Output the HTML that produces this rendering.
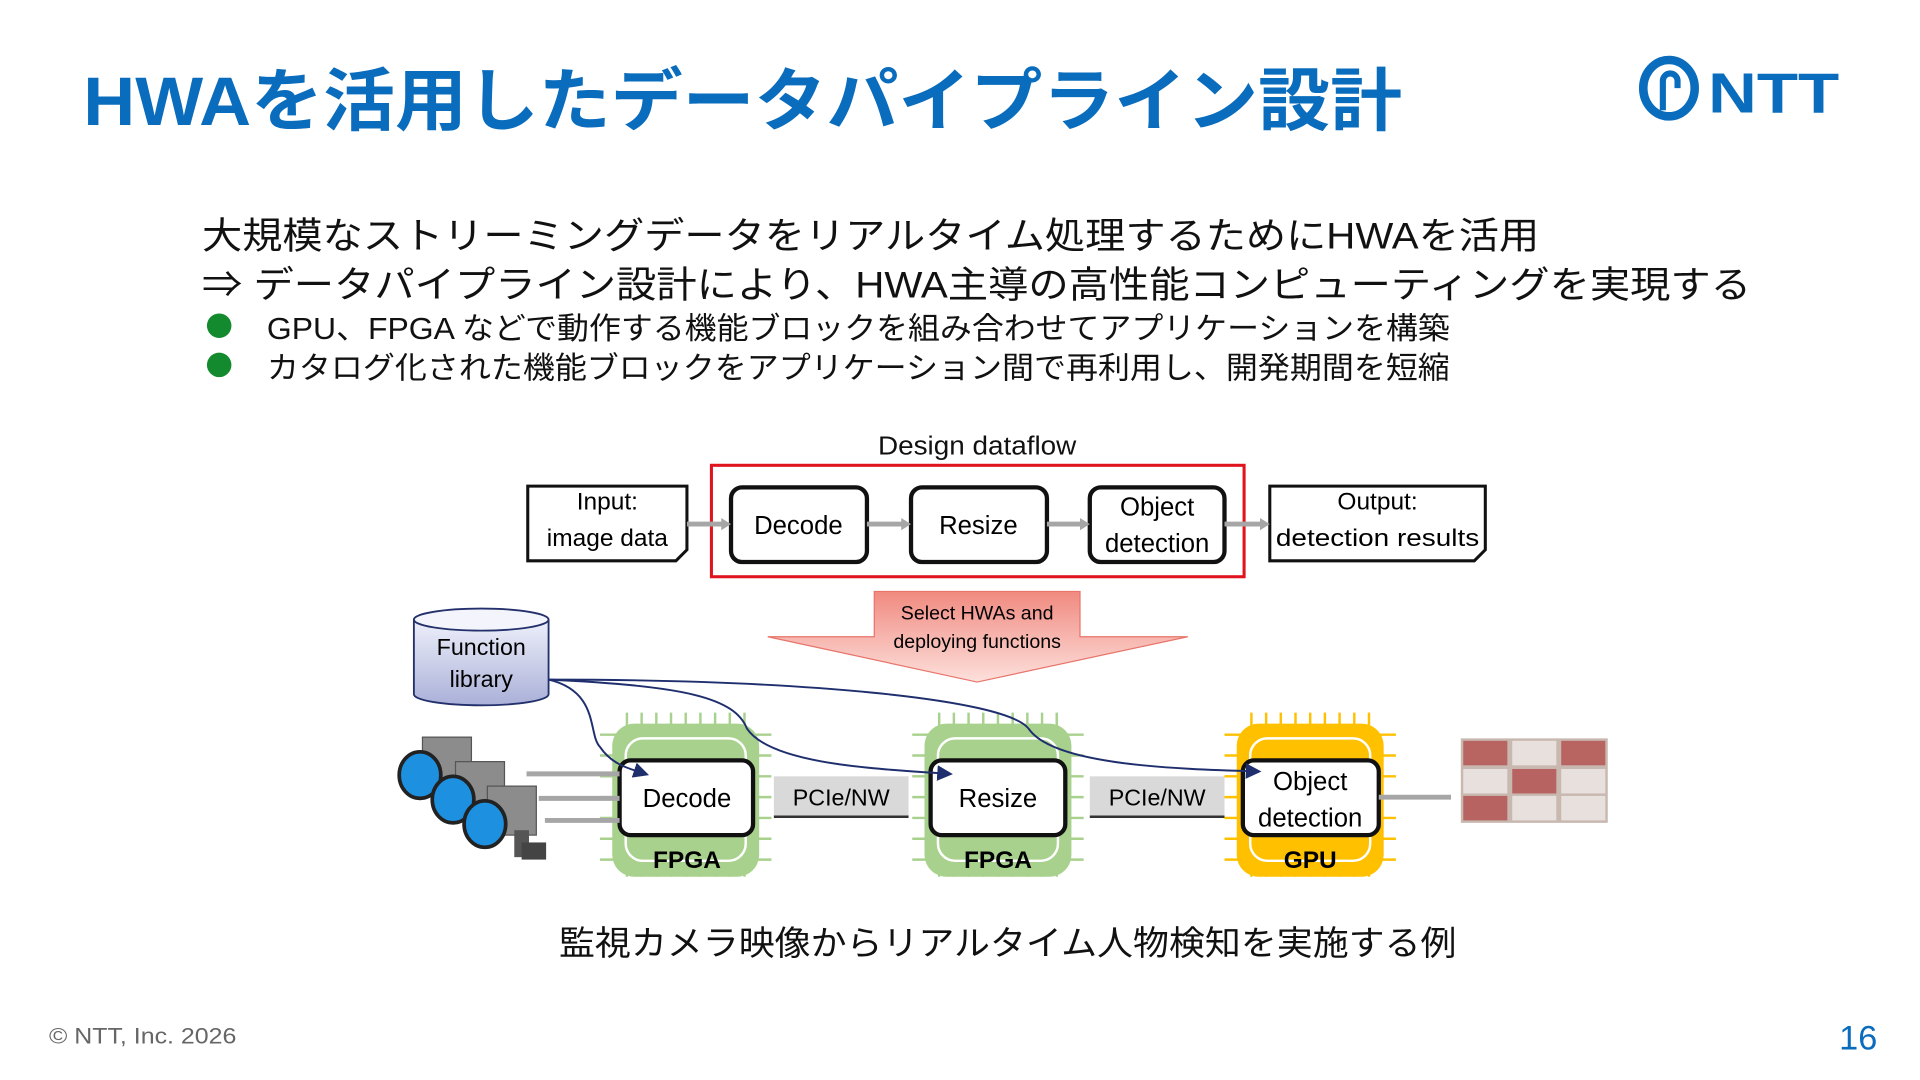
<!DOCTYPE html>
<html><head><meta charset="utf-8"><style>
html,body{margin:0;padding:0;background:#fff;}
svg{display:block;}
text{font-family:"Liberation Sans","Noto Sans CJK JP",sans-serif;}
</style></head><body>
<svg width="1920" height="1080" viewBox="0 0 1568 882" xmlns="http://www.w3.org/2000/svg">
<defs>
<linearGradient id="rg" x1="0" y1="0" x2="0" y2="1"><stop offset="0" stop-color="#f08a80"/><stop offset="1" stop-color="#fde0dc"/></linearGradient>
<linearGradient id="cyl" x1="0" y1="0" x2="0" y2="1"><stop offset="0" stop-color="#eef0fa"/><stop offset="1" stop-color="#aab0d8"/></linearGradient>
<marker id="ah" markerWidth="8" markerHeight="8" refX="6" refY="4" orient="auto"><path d="M0,0 L8,4 L0,8 z" fill="#1f2f6e"/></marker>
</defs>
<text x="68" y="102" font-size="56" font-weight="bold" fill="#0a6cbc" textLength="1077" lengthAdjust="spacingAndGlyphs">HWAを活用したデータパイプライン設計</text>
<!-- NTT logo -->
<ellipse cx="1363" cy="72" rx="21" ry="23" fill="none" stroke="#0a6cbc" stroke-width="7"/>
<path d="M1358,90 L1358,66 a6,6 0 0 1 12,0 L1370,72" fill="none" stroke="#0a6cbc" stroke-width="5"/>
<text x="1395" y="92" font-size="46" font-weight="bold" fill="#0a6cbc" textLength="107" lengthAdjust="spacingAndGlyphs">NTT</text>

<text x="165" y="203" font-size="30" fill="#111" textLength="1092" lengthAdjust="spacingAndGlyphs">大規模なストリーミングデータをリアルタイム処理するためにHWAを活用</text>
<text x="165" y="243" font-size="30" fill="#111" textLength="1265" lengthAdjust="spacingAndGlyphs">⇒ データパイプライン設計により、HWA主導の高性能コンピューティングを実現する</text>
<circle cx="179" cy="266" r="10" fill="#138a2d"/>
<circle cx="179" cy="298" r="10" fill="#138a2d"/>
<text x="218" y="277" font-size="25" fill="#111" textLength="966" lengthAdjust="spacingAndGlyphs">GPU、FPGA などで動作する機能ブロックを組み合わせてアプリケーションを構築</text>
<text x="218" y="309" font-size="25" fill="#111" textLength="966" lengthAdjust="spacingAndGlyphs">カタログ化された機能ブロックをアプリケーション間で再利用し、開発期間を短縮</text>

<text x="798" y="371" font-size="21" fill="#111" text-anchor="middle" textLength="162" lengthAdjust="spacingAndGlyphs">Design dataflow</text>
<rect x="581" y="380" width="435" height="91" fill="none" stroke="#e0141e" stroke-width="2.5"/>
<path d="M431,397 H561 V449 L552,458 H431 Z" fill="#fff" stroke="#111" stroke-width="2.5"/>
<text x="496" y="416" font-size="20" text-anchor="middle">Input:</text>
<text x="496" y="446" font-size="20" text-anchor="middle">image data</text>
<path d="M1037,397 H1213 V449 L1204,458 H1037 Z" fill="#fff" stroke="#111" stroke-width="2.5"/>
<text x="1125" y="416" font-size="20" text-anchor="middle">Output:</text>
<text x="1125" y="446" font-size="20" text-anchor="middle" textLength="166" lengthAdjust="spacingAndGlyphs">detection results</text>
<g fill="#fff" stroke="#111" stroke-width="3.5">
<rect x="597" y="398" width="111" height="61" rx="9"/>
<rect x="744" y="398" width="111" height="61" rx="9"/>
<rect x="890" y="398" width="110" height="61" rx="9"/>
</g>
<text x="652" y="436" font-size="21" text-anchor="middle">Decode</text>
<text x="799" y="436" font-size="21" text-anchor="middle">Resize</text>
<text x="945" y="421" font-size="21" text-anchor="middle">Object</text>
<text x="945" y="451" font-size="21" text-anchor="middle">detection</text>
<g stroke="#a6a6a6" stroke-width="4" fill="#a6a6a6">
<line x1="561" y1="428" x2="590" y2="428"/><path d="M589,423 L597,428 L589,433z" stroke="none"/>
<line x1="708" y1="428" x2="737" y2="428"/><path d="M736,423 L744,428 L736,433z" stroke="none"/>
<line x1="855" y1="428" x2="883" y2="428"/><path d="M882,423 L890,428 L882,433z" stroke="none"/>
<line x1="1000" y1="428" x2="1030" y2="428"/><path d="M1029,423 L1037,428 L1029,433z" stroke="none"/>
</g>
<path d="M714,483 H882 V520 H970 L798,557 L627,520 H714 Z" fill="url(#rg)" stroke="#e8746a" stroke-width="1"/>
<text x="798" y="506" font-size="16" text-anchor="middle">Select HWAs and</text>
<text x="798" y="529" font-size="16" text-anchor="middle">deploying functions</text>
<path d="M338,506 V567 A55,9 0 0 0 448,567 V506" fill="url(#cyl)" stroke="#23306b" stroke-width="1.5"/>
<ellipse cx="393" cy="506" rx="55" ry="9" fill="#f4f5fc" stroke="#23306b" stroke-width="1.5"/>
<text x="393" y="535" font-size="19" text-anchor="middle">Function</text>
<text x="393" y="561" font-size="19" text-anchor="middle">library</text>
<g>
<g stroke="#a9d18e" stroke-width="2">
<path d="M512,582 V716 M524,582 V716 M536,582 V716 M548,582 V716 M560,582 V716 M572,582 V716 M584,582 V716 M596,582 V716 M608,582 V716"/>
<path d="M490,600 H630 M490,617 H630 M490,634 H630 M490,651 H630 M490,668 H630 M490,685 H630 M490,702 H630"/>
<path d="M767,582 V716 M779,582 V716 M791,582 V716 M803,582 V716 M815,582 V716 M827,582 V716 M839,582 V716 M851,582 V716 M863,582 V716"/>
<path d="M745,600 H885 M745,617 H885 M745,634 H885 M745,651 H885 M745,668 H885 M745,685 H885 M745,702 H885"/>
</g>
<g stroke="#ffc000" stroke-width="2">
<path d="M1022,582 V716 M1034,582 V716 M1046,582 V716 M1058,582 V716 M1070,582 V716 M1082,582 V716 M1094,582 V716 M1106,582 V716 M1118,582 V716"/>
<path d="M1000,600 H1140 M1000,617 H1140 M1000,634 H1140 M1000,651 H1140 M1000,668 H1140 M1000,685 H1140 M1000,702 H1140"/>
</g>
<rect x="500" y="591" width="120" height="125" rx="18" fill="#a9d18e"/>
<rect x="511" y="603" width="98" height="100" rx="14" fill="none" stroke="#fff" stroke-width="2"/>
<rect x="755" y="591" width="120" height="125" rx="18" fill="#a9d18e"/>
<rect x="766" y="603" width="98" height="100" rx="14" fill="none" stroke="#fff" stroke-width="2"/>
<rect x="1010" y="591" width="120" height="125" rx="18" fill="#ffc000"/>
<rect x="1021" y="603" width="98" height="100" rx="14" fill="none" stroke="#fff" stroke-width="2"/>
</g>
<g fill="#fff" stroke="#111" stroke-width="3.5">
<rect x="506" y="621" width="109" height="61" rx="9"/>
<rect x="760" y="621" width="110" height="61" rx="9"/>
<rect x="1015" y="621" width="111" height="61" rx="9"/>
</g>
<text x="561" y="659" font-size="21" text-anchor="middle">Decode</text>
<text x="815" y="659" font-size="21" text-anchor="middle">Resize</text>
<text x="1070" y="645" font-size="21" text-anchor="middle">Object</text>
<text x="1070" y="675" font-size="21" text-anchor="middle">detection</text>
<text x="561" y="709" font-size="20" font-weight="bold" text-anchor="middle">FPGA</text>
<text x="815" y="709" font-size="20" font-weight="bold" text-anchor="middle">FPGA</text>
<text x="1070" y="709" font-size="20" font-weight="bold" text-anchor="middle">GPU</text>
<rect x="632" y="634" width="110" height="33" fill="#d9d9d9"/><line x1="632" y1="667" x2="742" y2="667" stroke="#333" stroke-width="2"/>
<rect x="890" y="634" width="110" height="33" fill="#d9d9d9"/><line x1="890" y1="667" x2="1000" y2="667" stroke="#333" stroke-width="2"/>
<text x="687" y="658" font-size="19" text-anchor="middle">PCIe/NW</text>
<text x="945" y="658" font-size="19" text-anchor="middle">PCIe/NW</text>
<g fill="none" stroke="#1f2f6e" stroke-width="1.6">
<path d="M448,555 C490,565 480,600 490,610 C500,625 515,628 527,632" marker-end="url(#ah)"/>
<path d="M448,555 C560,560 600,570 610,595 C630,625 720,628 775,632" marker-end="url(#ah)"/>
<path d="M448,555 C650,555 820,570 840,595 C860,625 960,628 1027,630" marker-end="url(#ah)"/>
</g>
<g stroke="#a6a6a6" stroke-width="4"><line x1="430" y1="632" x2="506" y2="632"/><line x1="440" y1="652" x2="506" y2="652"/><line x1="445" y1="670" x2="506" y2="670"/></g>
<g>
<rect x="345" y="602" width="40" height="40" fill="#8c8c8c" stroke="#555"/>
<rect x="372" y="622" width="40" height="40" fill="#8c8c8c" stroke="#555"/>
<rect x="398" y="642" width="40" height="40" fill="#8c8c8c" stroke="#555"/>
<rect x="420" y="678" width="12" height="22" fill="#555"/><rect x="426" y="688" width="20" height="14" fill="#444"/>
<ellipse cx="343" cy="633" rx="17" ry="19" fill="#1e90e0" stroke="#222" stroke-width="3"/>
<ellipse cx="370" cy="653" rx="17" ry="19" fill="#1e90e0" stroke="#222" stroke-width="3"/>
<ellipse cx="396" cy="673" rx="17" ry="19" fill="#1e90e0" stroke="#222" stroke-width="3"/>
</g>
<line x1="1126" y1="651" x2="1185" y2="651" stroke="#a6a6a6" stroke-width="4"/>
<rect x="1193" y="603" width="120" height="69" fill="#c8b8b0"/>
<g fill="#b04040" opacity="0.7"><rect x="1195" y="605" width="36" height="20"/><rect x="1275" y="605" width="36" height="20"/><rect x="1235" y="628" width="36" height="20"/><rect x="1195" y="650" width="36" height="20"/></g>
<g fill="#e8e0dc"><rect x="1235" y="605" width="36" height="20"/><rect x="1195" y="628" width="36" height="20"/><rect x="1275" y="628" width="36" height="20"/><rect x="1235" y="650" width="36" height="20"/><rect x="1275" y="650" width="36" height="20"/></g>

<text x="823" y="780" font-size="28" fill="#111" text-anchor="middle" textLength="733" lengthAdjust="spacingAndGlyphs">監視カメラ映像からリアルタイム人物検知を実施する例</text>
<text x="40" y="852" font-size="18" fill="#666" textLength="153" lengthAdjust="spacingAndGlyphs">© NTT, Inc.  2026</text>
<text x="1502" y="857" font-size="28" fill="#0a6cbc">16</text>
</svg>
</body></html>
